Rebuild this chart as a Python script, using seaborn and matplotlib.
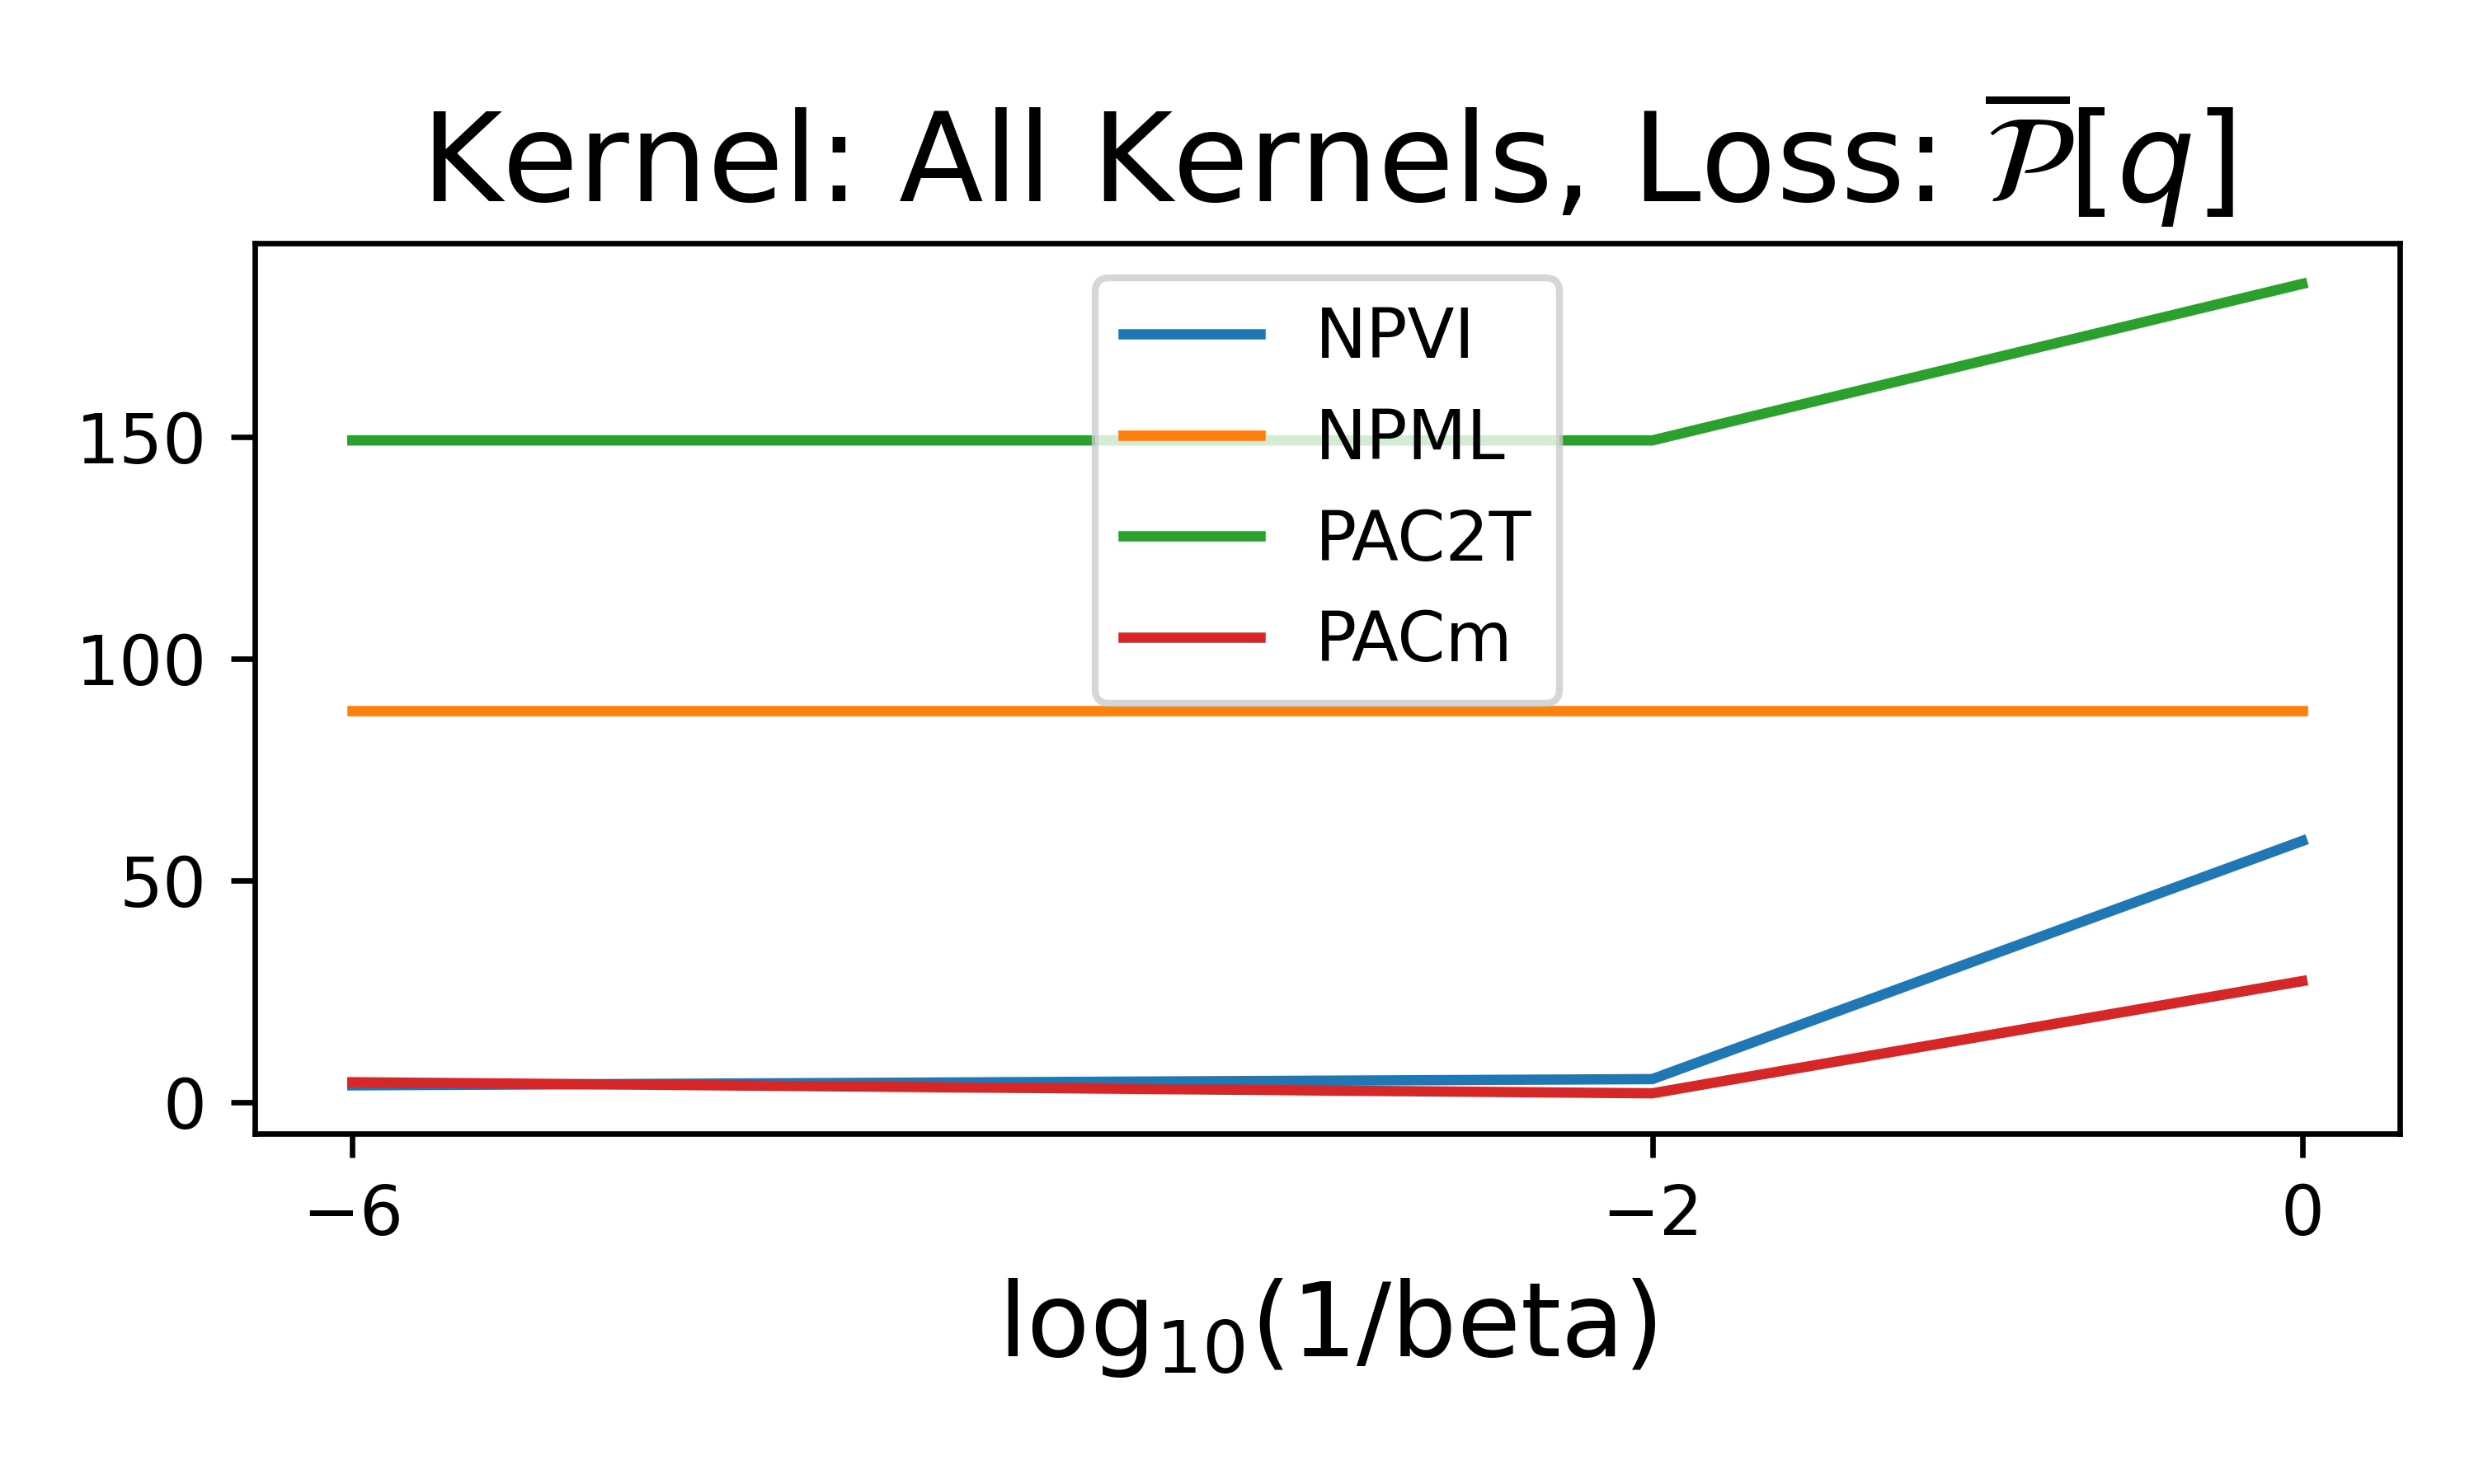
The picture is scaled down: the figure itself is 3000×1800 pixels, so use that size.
import matplotlib
matplotlib.use('Agg')
import matplotlib.pyplot as plt
import seaborn as sns
import pandas as pd

# Datos
log_inv_beta = [-6, -2, 0]
methods = ["NPVI", "NPML", "PAC2T", "PACm"]
npvi = [3.9, 5.3, 59.0]
npml = [88.3, 88.3, 88.3]
pac2t = [149.3, 149.3, 184.6]
pacm = [4.6, 2.1, 27.4]
colors = ["#1f77b4", "#ff7f0e", "#2ca02c", "#d62728"]

series = {"NPVI": npvi, "NPML": npml, "PAC2T": pac2t, "PACm": pacm}

fig, ax = plt.subplots(figsize=(5, 3))
for name, col in zip(methods, colors):
    df = pd.DataFrame({"x": log_inv_beta, "y": series[name]})
    sns.lineplot(data=df, x="x", y="y", color=col, label=name, ax=ax, linewidth=1.5)

ax.set_xticks(log_inv_beta)
ax.set_xlabel(r"log$_{10}$(1/beta)", fontsize=15)
ax.set_ylabel("")
ax.set_title(r"Kernel: All Kernels, Loss: $\overline{\mathcal{P}}[q]$", fontsize=18)
ax.legend(loc="upper center", fontsize=10)

plt.subplots_adjust(left=0.103, right=0.970, top=0.836, bottom=0.236)
plt.savefig("out.png", dpi=600)
